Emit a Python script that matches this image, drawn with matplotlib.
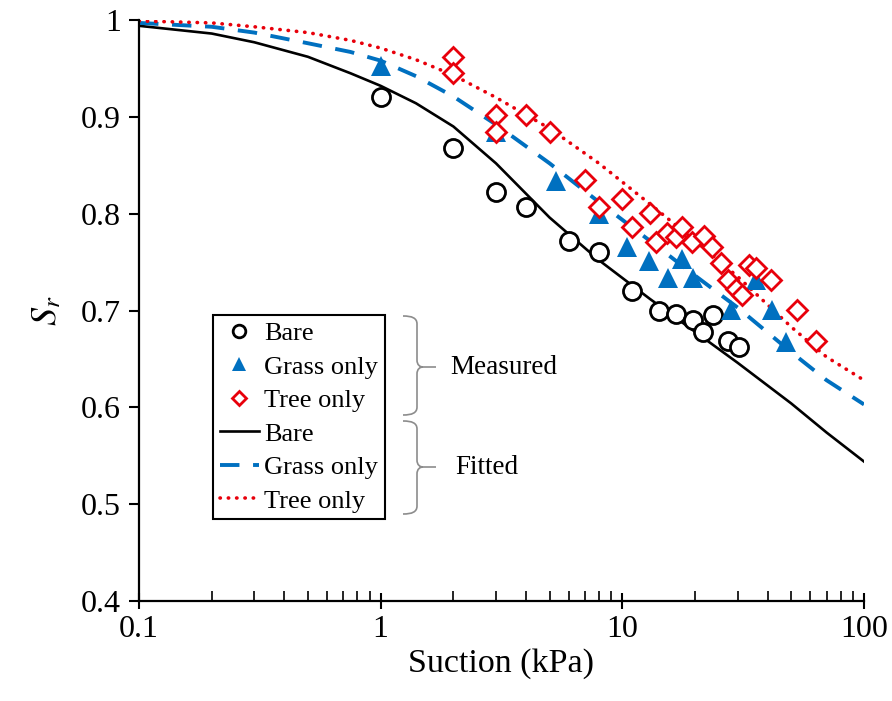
import matplotlib
matplotlib.use("Agg")
import matplotlib.pyplot as plt
from matplotlib.path import Path
from matplotlib.patches import PathPatch
from matplotlib.ticker import LogLocator, NullFormatter, FixedLocator

plt.rcParams["font.family"] = ["Liberation Serif", "DejaVu Serif"]
plt.rcParams["mathtext.fontset"] = "stix"

# measured points
bare_x = [1, 2, 3, 4, 6, 8, 11, 14.2, 16.7, 19.6, 21.6, 23.8, 27.4, 30.4]
bare_y = [0.920, 0.868, 0.822, 0.807, 0.772, 0.760, 0.720, 0.699, 0.696,
          0.690, 0.678, 0.695, 0.668, 0.662]

grass_x = [1, 3, 5.3, 8, 10.5, 12.9, 15.5, 17.7, 19.6, 28.2, 35.8, 41.7, 47.6]
grass_y = [0.952, 0.884, 0.834, 0.800, 0.766, 0.751, 0.734, 0.753, 0.734,
           0.701, 0.732, 0.701, 0.667]

tree_x = [2, 2, 3, 3, 4, 5, 7, 8, 10, 11, 13, 13.8, 15.3, 16.7, 17.7, 19.5,
          21.8, 23.6, 25.7, 27.4, 29.6, 31.3, 33.5, 35.8, 41.3, 52.9, 63.4]
tree_y = [0.962, 0.945, 0.902, 0.884, 0.902, 0.884, 0.835, 0.807, 0.815,
          0.786, 0.801, 0.771, 0.780, 0.776, 0.786, 0.771, 0.777, 0.766,
          0.749, 0.732, 0.722, 0.716, 0.747, 0.744, 0.732, 0.701, 0.668]

# fitted curves
fit_x = [0.1, 0.2, 0.3, 0.5, 0.75, 1, 1.4, 2, 3, 5, 8, 13, 20, 30, 50, 70, 100]
fit_bare = [0.994, 0.986, 0.977, 0.962, 0.945, 0.932, 0.914, 0.890, 0.852,
            0.796, 0.752, 0.712, 0.678, 0.646, 0.604, 0.574, 0.544]
fit_grass = [0.997, 0.993, 0.987, 0.976, 0.967, 0.958, 0.942, 0.921, 0.892,
             0.852, 0.812, 0.772, 0.736, 0.703, 0.657, 0.628, 0.603]
fit_tree = [0.999, 0.997, 0.993, 0.987, 0.979, 0.971, 0.959, 0.943, 0.920,
            0.888, 0.852, 0.810, 0.772, 0.735, 0.683, 0.652, 0.628]

blue = "#0070C0"
red = "#E8000B"

W, H = 892, 701
fig = plt.figure(figsize=(W / 100, H / 100), dpi=100)
ax = fig.add_axes([139 / W, 1 - 601 / H, 725 / W, 581 / H])

ax.plot(bare_x, bare_y, "o", ms=13, mfc="white", mec="black", mew=2,
        ls="none", label="Bare", zorder=3)
ax.plot(grass_x, grass_y, "^", ms=14, mfc=blue, mec=blue, mew=0,
        ls="none", label="Grass only", zorder=3)
ax.plot(tree_x, tree_y, "D", ms=10, mfc="white", mec=red, mew=2,
        ls="none", label="Tree only", zorder=4)

ax.plot(fit_x, fit_bare, "-", color="black", lw=1.9, label="Bare", zorder=2)
ax.plot(fit_x, fit_grass, color=blue, lw=2.8, ls=(0, (5, 3.5)),
        label="Grass only", zorder=2)
ax.plot(fit_x, fit_tree, color=red, lw=2.6, ls=(0, (0.1, 2.2)),
        dash_capstyle="round", label="Tree only", zorder=2)

ax.set_xscale("log")
ax.set_xlim(0.1, 100)
ax.set_ylim(0.4, 1.0)

ax.xaxis.set_major_locator(FixedLocator([0.1, 1, 10, 100]))
ax.set_xticklabels(["0.1", "1", "10", "100"])
ax.xaxis.set_minor_locator(LogLocator(base=10, subs=range(2, 10)))
ax.xaxis.set_minor_formatter(NullFormatter())
ax.set_yticks([0.4, 0.5, 0.6, 0.7, 0.8, 0.9, 1.0])
ax.set_yticklabels(["0.4", "0.5", "0.6", "0.7", "0.8", "0.9", "1"])

ax.tick_params(axis="x", which="major", direction="inout", length=12,
               width=1.5, labelsize=23, pad=4)
ax.tick_params(axis="x", which="minor", direction="in", length=7, width=1.2)
ax.tick_params(axis="y", which="major", direction="out", length=7,
               width=1.5, labelsize=23, pad=6)

for side in ["top", "right"]:
    ax.spines[side].set_visible(False)
for side in ["left", "bottom"]:
    ax.spines[side].set_linewidth(1.6)

ax.set_xlabel("Suction (kPa)", fontsize=24.5, labelpad=3)
ax.set_ylabel(r"$S_r$", fontsize=26, labelpad=12)

leg = ax.legend(
    loc="upper left",
    bbox_to_anchor=((213 - 139) / 725, (601 - 315) / 581),
    borderaxespad=0,
    fontsize=19,
    frameon=True,
    fancybox=False,
    edgecolor="black",
    framealpha=1,
    handlelength=1.5,
    handletextpad=0.2,
    labelspacing=0.38,
    borderpad=0.25,
    markerscale=0.7,
)
leg.get_frame().set_linewidth(1.5)


def px(x, y):
    return (x / W, 1 - y / H)


def brace(top, mid, bot):
    x0, x1, x2, x3 = 403, 417, 423, 436
    verts = [
        px(x0, top), px(412, top), px(x1, top + 2), px(x1, top + 8),
        px(x1, mid - 7),
        px(x1, mid - 2), px(420, mid), px(x2, mid),
        px(x3, mid),
        px(x2, mid),
        px(420, mid), px(x1, mid + 2), px(x1, mid + 7),
        px(x1, bot - 8),
        px(x1, bot - 2), px(412, bot), px(x0, bot),
    ]
    codes = [Path.MOVETO, Path.CURVE4, Path.CURVE4, Path.CURVE4,
             Path.LINETO,
             Path.CURVE4, Path.CURVE4, Path.CURVE4,
             Path.LINETO,
             Path.MOVETO,
             Path.CURVE4, Path.CURVE4, Path.CURVE4,
             Path.LINETO,
             Path.CURVE4, Path.CURVE4, Path.CURVE4]
    patch = PathPatch(Path(verts, codes), transform=fig.transFigure,
                      fill=False, edgecolor="#8c8c8c", lw=1.2)
    fig.patches.append(patch)


brace(316, 367, 415)
brace(421, 467, 514)

fig.text(*px(504, 367), "Measured", fontsize=19.5, ha="center", va="center")
fig.text(*px(487, 467), "Fitted", fontsize=19.5, ha="center", va="center")

fig.savefig("out.png", dpi=100)
